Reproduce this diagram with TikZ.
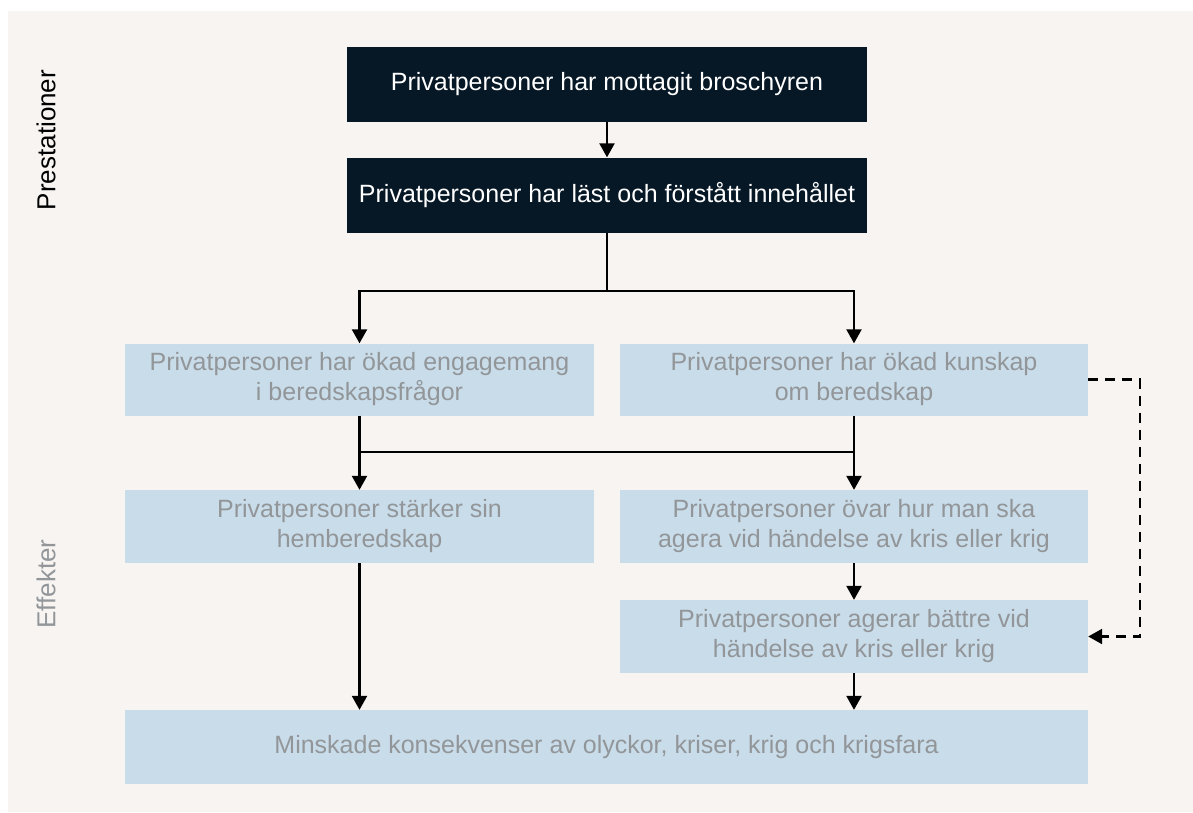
\documentclass[tikz,border=0pt]{standalone}
\usepackage{fontspec}
\setmainfont{Liberation Sans}
\usetikzlibrary{arrows.meta}
\definecolor{bg}{HTML}{F7F4F2}
\definecolor{dark}{HTML}{061726}
\definecolor{light}{HTML}{C9DCEA}
\definecolor{greytext}{HTML}{929699}
\begin{document}
\begin{tikzpicture}[x=1pt,y=-1pt,
  boxtext/.style={align=center,inner sep=0pt,font=\fontsize{25}{30}\selectfont},
  dbox/.style={boxtext,fill=dark,text=white,minimum width=520pt,minimum height=75pt},
  lbox/.style={boxtext,fill=light,text=greytext,minimum height=72pt},
  ln/.style={line width=2.3pt},
  tip/.style={-{Triangle[width=15pt,length=14pt]}},
  arr/.style={ln,tip},
  side/.style={rotate=90,font=\fontsize{26}{30}\selectfont}]
\useasboundingbox (0,0) rectangle (1193,812);
\fill[white] (0,0) rectangle (1193,812);
\fill[bg] (8,11) rectangle (1193,812);

\node[side] (lp) at (46,140) {Prestationer};
\node[side,text=greytext] (le) at (46,584) {Effekter};

\node[dbox] (b1) at (607,84.5) {Privatpersoner har mottagit broschyren};
\node[dbox] (b2) at (607,195) {Privatpersoner har läst och förstått innehållet};

\node[lbox,minimum width=469pt] (a) at (359.5,379.5) {Privatpersoner har ökad engagemang\\i beredskapsfrågor};
\node[lbox,minimum width=468pt] (b) at (854,379.5) {Privatpersoner har ökad kunskap\\om beredskap};
\node[lbox,minimum width=469pt,minimum height=73pt] (c) at (359.5,526.5) {Privatpersoner stärker sin\\hemberedskap};
\node[lbox,minimum width=468pt,minimum height=73pt] (d) at (854,526.5) {Privatpersoner övar hur man ska\\agera vid händelse av kris eller krig};
\node[lbox,minimum width=468pt,minimum height=73pt] (e) at (854,636.5) {Privatpersoner agerar bättre vid\\händelse av kris eller krig};
\node[lbox,minimum width=963pt,minimum height=74pt] (f) at (606.5,747) {Minskade konsekvenser av olyckor, kriser, krig och krigsfara};

\draw[arr] (b1) -- (b2);
\coordinate (j1) at (607,291);
\draw[ln] (b2.south) -- (j1);
\draw[arr] (j1) -| (a.north);
\draw[arr] (j1) -| (b.north);

\coordinate (j2) at (359.5,452);
\draw[ln] (a.south) -- (j2);
\draw[ln] (j2) -- (j2 -| b.south);
\draw[arr] (j2) -- (c.north);
\draw[arr] (b.south) -- (d.north);
\draw[arr] (d) -- (e);
\draw[arr] (c.south) -- (c.south |- f.north);
\draw[arr] (e.south) -- (e.south |- f.north);

\coordinate (dk) at (1140,379.5);
\draw[arr,dash pattern=on 10pt off 7pt] (b.east) -- (dk) |- (e.east);
\end{tikzpicture}
\end{document}
